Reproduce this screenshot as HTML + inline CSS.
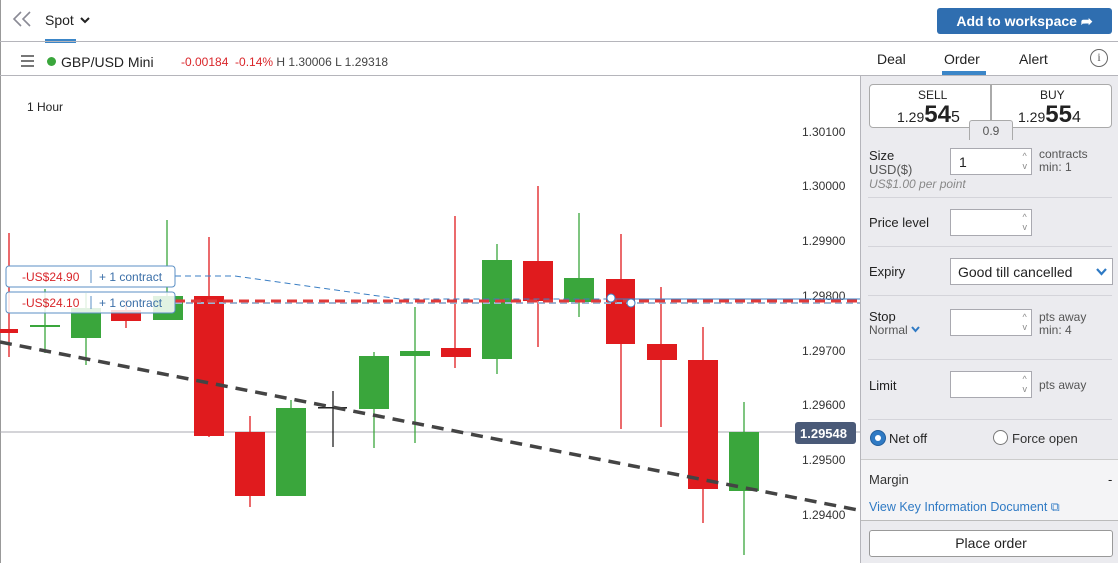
<!DOCTYPE html>
<html><head><meta charset="utf-8"><style>
*{box-sizing:border-box;margin:0;padding:0}
body{width:1118px;height:563px;overflow:hidden;background:#fff;font-family:"Liberation Sans",sans-serif;position:relative;color:#222}
.a{position:absolute}
.inp{position:absolute;background:#fff;border:1px solid #a9a9b0;height:27px;width:82px}
.inp .ar{position:absolute;right:4px;top:2px;font-size:9px;color:#888;line-height:10px}
.sep{position:absolute;left:868px;width:244px;height:1px;background:#d4d4da}
.lbl{position:absolute;font-size:13px;color:#222}
</style></head><body>
<div class="a" style="left:0;top:0;width:1px;height:563px;background:#999"></div>
<svg class="a" style="left:12px;top:10px" width="22" height="18"><polyline points="9,2 2,9 9,16" fill="none" stroke="#8a8a95" stroke-width="1.6"/><polyline points="18,2 11,9 18,16" fill="none" stroke="#8a8a95" stroke-width="1.6"/></svg>
<div class="a" style="left:45px;top:12px;font-size:14px">Spot</div>
<svg class="a" style="left:80px;top:17px" width="10" height="7"><polyline points="1,1 5,5 9,1" fill="none" stroke="#222" stroke-width="2"/></svg>
<div class="a" style="left:45px;top:39px;width:31px;height:4px;background:#3b86c8"></div>
<div class="a" style="left:937px;top:8px;width:175px;height:26px;background:#2f6eb0;border-radius:3px;color:#fff;font-weight:bold;font-size:14px;text-align:center;line-height:26px">Add to workspace ➦</div>
<div class="a" style="left:0;top:41px;width:1118px;height:1px;background:#b5b5bb"></div>
<div class="a" style="left:21px;top:55px;width:13px;height:1.5px;background:#777;box-shadow:0 5px 0 #777,0 10px 0 #777"></div>
<div class="a" style="left:47px;top:57px;width:9px;height:9px;border-radius:50%;background:#3aa63c"></div>
<div class="a" style="left:61px;top:54px;font-size:14px">GBP/USD Mini</div>
<div class="a" style="left:181px;top:55px;font-size:12px;color:#d9262a">-0.00184&nbsp; -0.14% <span style="color:#444">H 1.30006 L 1.29318</span></div>
<div class="a" style="left:877px;top:51px;font-size:14px">Deal</div>
<div class="a" style="left:944px;top:51px;font-size:14px">Order</div>
<div class="a" style="left:942px;top:71px;width:44px;height:4px;background:#3b86c8"></div>
<div class="a" style="left:1019px;top:51px;font-size:14px">Alert</div>
<div class="a" style="left:1090px;top:49px;width:18px;height:18px;border:1.5px solid #666;border-radius:50%;font-size:12px;text-align:center;line-height:15px;color:#555;font-family:'Liberation Serif',serif">i</div>
<div class="a" style="left:0;top:75px;width:1118px;height:1px;background:#b5b5bb"></div>
<div class="a" style="left:27px;top:100px;font-size:12px">1 Hour</div>
<svg class="a" style="left:0;top:76px" width="860" height="487" viewBox="0 76 860 487">
<line x1="0" y1="432" x2="860" y2="432" stroke="#a8a8b0"/>
<g font-size="12" fill="#333" font-family="Liberation Sans">
<text x="802" y="136">1.30100</text><text x="802" y="190">1.30000</text><text x="802" y="245">1.29900</text>
<text x="802" y="300">1.29800</text><text x="802" y="355">1.29700</text><text x="802" y="409">1.29600</text>
<text x="802" y="464">1.29500</text><text x="802" y="519">1.29400</text></g>
<rect x="795" y="422" width="61" height="22" rx="3" fill="#4a5a78"/>
<text x="800" y="438" font-size="13" font-weight="bold" fill="#fff">1.29548</text>
<g stroke-width="1.3">
<line x1="9" y1="233" x2="9" y2="357" stroke="#e01b1e"/><rect x="0" y="329" width="18" height="4" fill="#e01b1e"/>
<line x1="45" y1="289" x2="45" y2="353" stroke="#3aa63c"/><rect x="30" y="325" width="30" height="2" fill="#3aa63c"/>
<line x1="86" y1="293" x2="86" y2="365" stroke="#3aa63c"/><rect x="71" y="308" width="30" height="30" fill="#3aa63c"/>
<line x1="126" y1="300" x2="126" y2="328" stroke="#e01b1e"/><rect x="111" y="310" width="30" height="11" fill="#e01b1e"/>
<line x1="167" y1="220" x2="167" y2="296" stroke="#3aa63c"/><rect x="153" y="296" width="30" height="24" fill="#3aa63c"/>
<line x1="209" y1="237" x2="209" y2="437" stroke="#e01b1e"/><rect x="194" y="296" width="30" height="140" fill="#e01b1e"/>
<line x1="250" y1="416" x2="250" y2="507" stroke="#e01b1e"/><rect x="235" y="432" width="30" height="64" fill="#e01b1e"/>
<line x1="291" y1="400" x2="291" y2="496" stroke="#3aa63c"/><rect x="276" y="408" width="30" height="88" fill="#3aa63c"/>
<line x1="333" y1="391" x2="333" y2="447" stroke="#222"/><rect x="318" y="407" width="29" height="1.5" fill="#222"/>
<line x1="374" y1="352" x2="374" y2="448" stroke="#3aa63c"/><rect x="359" y="356" width="30" height="53" fill="#3aa63c"/>
<line x1="415" y1="307" x2="415" y2="443" stroke="#3aa63c"/><rect x="400" y="351" width="30" height="5" fill="#3aa63c"/>
<line x1="455" y1="216" x2="455" y2="368" stroke="#e01b1e"/><rect x="441" y="348" width="30" height="9" fill="#e01b1e"/>
<line x1="497" y1="244" x2="497" y2="374" stroke="#3aa63c"/><rect x="482" y="260" width="30" height="99" fill="#3aa63c"/>
<line x1="538" y1="186" x2="538" y2="347" stroke="#e01b1e"/><rect x="523" y="261" width="30" height="40" fill="#e01b1e"/>
<line x1="579" y1="213" x2="579" y2="317" stroke="#3aa63c"/><rect x="564" y="278" width="30" height="24" fill="#3aa63c"/>
<line x1="621" y1="234" x2="621" y2="429" stroke="#e01b1e"/><rect x="606" y="279" width="29" height="65" fill="#e01b1e"/>
<line x1="661" y1="287" x2="661" y2="427" stroke="#e01b1e"/><rect x="647" y="344" width="30" height="16" fill="#e01b1e"/>
<line x1="703" y1="327" x2="703" y2="523" stroke="#e01b1e"/><rect x="688" y="360" width="30" height="129" fill="#e01b1e"/>
<line x1="744" y1="402" x2="744" y2="555" stroke="#3aa63c"/><rect x="729" y="432" width="30" height="59" fill="#3aa63c"/>
</g>
<line x1="175" y1="276" x2="235" y2="276" stroke="#3b7fc4" stroke-dasharray="6,4"/>
<polyline points="235,276 400,299 860,299" fill="none" stroke="#3b7fc4" stroke-dasharray="6,4"/>
<line x1="610" y1="299" x2="860" y2="299" stroke="#3b7fc4"/>
<line x1="175" y1="303" x2="860" y2="303" stroke="#9bb6d4" stroke-width="2" stroke-dasharray="7,4"/>
<line x1="175" y1="301" x2="860" y2="301" stroke="#e03838" stroke-width="3" stroke-dasharray="10,6"/>
<circle cx="611" cy="298" r="4" fill="#fff" stroke="#3b7fc4"/>
<circle cx="631" cy="303" r="4" fill="#fff" stroke="#3b7fc4"/>
<line x1="0" y1="342" x2="858" y2="510" stroke="#444" stroke-width="3.5" stroke-dasharray="12,8"/>
<g font-size="12">
<rect x="6" y="266" width="169" height="21" rx="3" fill="#fff" stroke="#5b8fc4"/>
<text x="22" y="281" fill="#d9262a">-US$24.90</text><line x1="91" y1="270" x2="91" y2="283" stroke="#5b8fc4"/>
<text x="99" y="281" fill="#3b6fa8">+ 1 contract</text>
<rect x="6" y="292" width="169" height="21" rx="3" fill="#fff" fill-opacity="0.85" stroke="#5b8fc4"/>
<text x="22" y="307" fill="#d9262a">-US$24.10</text><line x1="91" y1="296" x2="91" y2="309" stroke="#5b8fc4"/>
<text x="99" y="307" fill="#3b6fa8">+ 1 contract</text></g>
</svg>
<div class="a" style="left:860px;top:76px;width:258px;height:487px;background:#ebebef;border-left:1px solid #b5b5bb"></div>
<div class="a" style="left:869px;top:84px;width:243px;height:44px;background:#fff;border:1px solid #aaa;border-radius:4px"></div>
<div class="a" style="left:990px;top:84px;width:2px;height:44px;background:#aaa"></div>
<div class="a" style="left:969px;top:120px;width:44px;height:20px;background:#ebebef;border:1px solid #aaa;border-bottom:none;border-radius:3px 3px 0 0;font-size:12px;text-align:center;line-height:20px;color:#555">0.9</div>
<div class="a" style="left:918px;top:88px;font-size:12px">SELL</div>
<div class="a" style="left:897px;top:101px;font-size:14px">1.29<b style="font-size:24px">54</b><span style="font-size:16px">5</span></div>
<div class="a" style="left:1040px;top:88px;font-size:12px">BUY</div>
<div class="a" style="left:1018px;top:101px;font-size:14px">1.29<b style="font-size:24px">55</b><span style="font-size:16px">4</span></div>
<div class="lbl" style="left:869px;top:148px">Size</div>
<div class="lbl" style="left:869px;top:162px;color:#555">USD($)</div>
<div class="lbl" style="left:869px;top:177px;color:#888;font-style:italic;font-size:12px">US$1.00 per point</div>
<div class="inp" style="left:950px;top:148px"><span style="position:absolute;left:8px;top:5px;font-size:14px">1</span><span class="ar">^<br>v</span></div>
<div class="lbl" style="left:1039px;top:148px;font-size:12px;color:#555;line-height:13px">contracts<br>min: 1</div>
<div class="sep" style="top:197px"></div>
<div class="lbl" style="left:869px;top:215px">Price level</div>
<div class="inp" style="left:950px;top:209px"><span class="ar">^<br>v</span></div>
<div class="sep" style="top:246px"></div>
<div class="lbl" style="left:869px;top:264px">Expiry</div>
<div class="a" style="left:950px;top:258px;width:163px;height:27px;background:#fff;border:1px solid #a9a9b0;font-size:14px;padding:5px 7px">Good till cancelled</div>
<svg class="a" style="left:1096px;top:268px" width="11" height="8"><polyline points="1,1 5.5,6 10,1" fill="none" stroke="#2f7ac4" stroke-width="2.2"/></svg>
<div class="sep" style="top:295px"></div>
<div class="lbl" style="left:869px;top:309px">Stop</div>
<div class="lbl" style="left:869px;top:323px;color:#555;font-size:12px">Normal</div>
<svg class="a" style="left:911px;top:326px" width="9" height="7"><polyline points="1,1 4.5,5 8,1" fill="none" stroke="#2f7ac4" stroke-width="2"/></svg>
<div class="inp" style="left:950px;top:309px"><span class="ar">^<br>v</span></div>
<div class="lbl" style="left:1039px;top:311px;font-size:12px;color:#555;line-height:13px">pts away<br>min: 4</div>
<div class="sep" style="top:359px"></div>
<div class="lbl" style="left:869px;top:378px">Limit</div>
<div class="inp" style="left:950px;top:371px"><span class="ar">^<br>v</span></div>
<div class="lbl" style="left:1039px;top:378px;font-size:12px;color:#555">pts away</div>
<div class="sep" style="top:419px"></div>
<div class="a" style="left:870px;top:430px;width:16px;height:16px;border-radius:50%;background:#2f7ac4;border:1px solid #225e9c"><div style="margin:4px;width:6px;height:6px;background:#fff;border-radius:50%"></div></div>
<div class="lbl" style="left:889px;top:431px">Net off</div>
<div class="a" style="left:993px;top:430px;width:15px;height:15px;border-radius:50%;background:#fff;border:1px solid #777"></div>
<div class="lbl" style="left:1012px;top:431px;color:#333">Force open</div>
<div class="a" style="left:861px;top:459px;width:257px;height:62px;background:#f4f4f6;border-top:1px solid #ccc;border-bottom:1px solid #bbb"></div>
<div class="lbl" style="left:869px;top:472px;color:#333">Margin</div>
<div class="lbl" style="left:1108px;top:472px">-</div>
<div class="lbl" style="left:869px;top:500px;color:#2f7ac4;font-size:12.5px">View Key Information Document ⧉</div>
<div class="a" style="left:869px;top:530px;width:244px;height:27px;background:#fff;border:1px solid #999;border-radius:3px;font-size:14px;text-align:center;line-height:25px">Place order</div>
</body></html>
